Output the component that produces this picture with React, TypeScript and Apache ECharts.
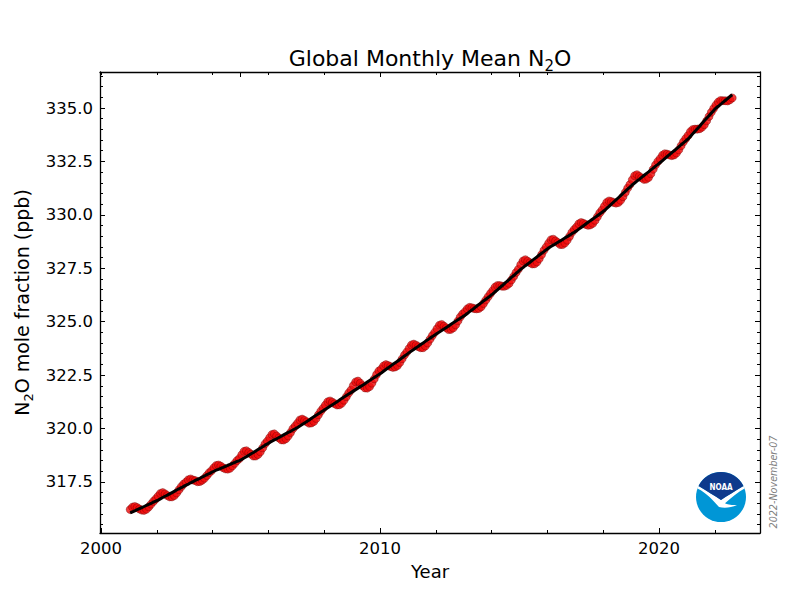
import React, { useEffect, useRef } from "react";
import * as echarts from "echarts";

// ---------- data ----------
const startYear = 2001; // first month: January 2001, one value per month

// Monthly global means (red points), Jan 2001 .. Aug 2022, ppb
const monthlyMean: number[] = [
  316.21, 316.32, 316.35, 316.30, 316.23, 316.18, 316.17, 316.22, 316.33, 316.46, 316.59, 316.70,
  316.83, 316.96, 317.00, 316.94, 316.86, 316.80, 316.80, 316.86, 316.98, 317.13, 317.28, 317.40,
  317.49, 317.60, 317.64, 317.59, 317.56, 317.51, 317.52, 317.58, 317.67, 317.80, 317.93, 318.03,
  318.16, 318.27, 318.29, 318.24, 318.16, 318.11, 318.10, 318.14, 318.25, 318.37, 318.50, 318.60,
  318.77, 318.93, 318.96, 318.88, 318.80, 318.71, 318.71, 318.78, 318.91, 319.09, 319.28, 319.41,
  319.57, 319.72, 319.75, 319.65, 319.56, 319.47, 319.46, 319.52, 319.65, 319.81, 319.99, 320.12,
  320.25, 320.40, 320.44, 320.38, 320.31, 320.25, 320.26, 320.33, 320.47, 320.64, 320.81, 320.95,
  321.10, 321.25, 321.29, 321.23, 321.16, 321.10, 321.11, 321.18, 321.32, 321.49, 321.66, 321.80,
  322.01, 322.18, 322.22, 322.12, 322.00, 321.90, 321.89, 321.96, 322.12, 322.32, 322.53, 322.69,
  322.78, 322.93, 322.99, 322.95, 322.90, 322.86, 322.88, 322.95, 323.09, 323.26, 323.44, 323.58,
  323.75, 323.91, 323.95, 323.90, 323.83, 323.78, 323.78, 323.86, 324.00, 324.18, 324.35, 324.50,
  324.67, 324.83, 324.87, 324.79, 324.71, 324.63, 324.64, 324.71, 324.85, 325.03, 325.22, 325.36,
  325.46, 325.60, 325.67, 325.65, 325.61, 325.60, 325.62, 325.70, 325.85, 326.01, 326.17, 326.32,
  326.46, 326.62, 326.69, 326.69, 326.66, 326.66, 326.70, 326.79, 326.95, 327.12, 327.30, 327.45,
  327.67, 327.84, 327.90, 327.83, 327.76, 327.70, 327.71, 327.79, 327.95, 328.14, 328.34, 328.50,
  328.67, 328.83, 328.86, 328.78, 328.70, 328.61, 328.61, 328.68, 328.81, 328.99, 329.18, 329.31,
  329.43, 329.58, 329.64, 329.60, 329.55, 329.51, 329.53, 329.60, 329.74, 329.91, 330.09, 330.23,
  330.40, 330.58, 330.65, 330.62, 330.58, 330.55, 330.58, 330.68, 330.85, 331.05, 331.25, 331.42,
  331.64, 331.83, 331.88, 331.80, 331.73, 331.66, 331.67, 331.75, 331.92, 332.13, 332.34, 332.50,
  332.63, 332.79, 332.86, 332.84, 332.80, 332.77, 332.80, 332.89, 333.04, 333.23, 333.42, 333.57,
  333.71, 333.89, 333.99, 334.01, 334.01, 334.03, 334.10, 334.22, 334.40, 334.60, 334.80, 334.98,
  335.14, 335.28, 335.35, 335.34, 335.34, 335.33, 335.38, 335.47,
];

// Deseasonalized trend (black line), same months
const trendValues: number[] = [
  316.05, 316.10, 316.15, 316.20, 316.25, 316.30, 316.35, 316.40, 316.45, 316.50, 316.55, 316.60,
  316.65, 316.71, 316.77, 316.83, 316.88, 316.94, 317.00, 317.06, 317.12, 317.18, 317.23, 317.29,
  317.35, 317.40, 317.46, 317.51, 317.57, 317.62, 317.67, 317.73, 317.78, 317.84, 317.89, 317.95,
  318.00, 318.05, 318.09, 318.14, 318.18, 318.23, 318.28, 318.32, 318.37, 318.41, 318.46, 318.50,
  318.55, 318.62, 318.68, 318.75, 318.82, 318.88, 318.95, 319.02, 319.08, 319.15, 319.22, 319.28,
  319.35, 319.41, 319.47, 319.52, 319.58, 319.64, 319.70, 319.76, 319.82, 319.87, 319.93, 319.99,
  320.05, 320.12, 320.19, 320.26, 320.33, 320.40, 320.48, 320.55, 320.62, 320.69, 320.76, 320.83,
  320.90, 320.97, 321.04, 321.11, 321.18, 321.25, 321.33, 321.40, 321.47, 321.54, 321.61, 321.68,
  321.75, 321.82, 321.89, 321.96, 322.03, 322.10, 322.18, 322.25, 322.32, 322.39, 322.46, 322.53,
  322.60, 322.68, 322.76, 322.84, 322.92, 323.00, 323.08, 323.15, 323.23, 323.31, 323.39, 323.47,
  323.55, 323.63, 323.70, 323.78, 323.85, 323.93, 324.00, 324.08, 324.15, 324.23, 324.30, 324.38,
  324.45, 324.52, 324.59, 324.66, 324.73, 324.80, 324.88, 324.95, 325.02, 325.09, 325.16, 325.23,
  325.30, 325.38, 325.47, 325.55, 325.63, 325.72, 325.80, 325.88, 325.97, 326.05, 326.13, 326.22,
  326.30, 326.40, 326.49, 326.59, 326.68, 326.78, 326.88, 326.97, 327.07, 327.16, 327.26, 327.35,
  327.45, 327.53, 327.62, 327.70, 327.78, 327.87, 327.95, 328.03, 328.12, 328.20, 328.28, 328.37,
  328.45, 328.52, 328.58, 328.65, 328.72, 328.78, 328.85, 328.92, 328.98, 329.05, 329.12, 329.18,
  329.25, 329.33, 329.41, 329.49, 329.57, 329.65, 329.73, 329.80, 329.88, 329.96, 330.04, 330.12,
  330.20, 330.30, 330.40, 330.50, 330.60, 330.70, 330.80, 330.90, 331.00, 331.10, 331.20, 331.30,
  331.40, 331.49, 331.58, 331.66, 331.75, 331.84, 331.93, 332.01, 332.10, 332.19, 332.28, 332.36,
  332.45, 332.54, 332.63, 332.73, 332.82, 332.91, 333.00, 333.09, 333.18, 333.28, 333.37, 333.46,
  333.55, 333.67, 333.79, 333.91, 334.03, 334.15, 334.28, 334.40, 334.52, 334.64, 334.76, 334.88,
  335.00, 335.08, 335.17, 335.26, 335.35, 335.44, 335.53, 335.62,
];

// Tick labels
const xMajorTicks: number[] = [2000, 2010, 2020];
const xMinorTicks: number[] = [2002, 2004, 2006, 2008, 2012, 2014, 2016, 2018, 2022];
const xTopMajorTicks: number[] = [2005, 2010, 2015, 2020];
const xTopMinorTicks: number[] = [2000, 2002, 2004, 2006, 2008, 2012, 2014, 2016, 2018, 2022];
const yMajorTicks: number[] = [317.5, 320.0, 322.5, 325.0, 327.5, 330.0, 332.5, 335.0];
const yMinorTicks: number[] = [
  315.5, 316.0, 316.5, 317.0, 318.0, 318.5, 319.0, 319.5, 320.5, 321.0, 321.5, 322.0,
  323.0, 323.5, 324.0, 324.5, 325.5, 326.0, 326.5, 327.0, 328.0, 328.5, 329.0, 329.5,
  330.5, 331.0, 331.5, 332.0, 333.0, 333.5, 334.0, 334.5, 335.5, 336.0, 336.5,
];

const titleText = "{m|Global Monthly Mean N}{sub|2}{m|O}";
const xAxisName = "Year";
const yAxisName = "{m|N}{sub|2}{m|O mole fraction (ppb)}";
const dateStamp = "2022-November-07";

// ---------- logo shapes ----------
const darkPath =
  "M -22.4 -11 A 25 25 0 0 1 22.4 -11 C 14 -6 6 -1 0 3 C -6 -1 -14 -6 -22.4 -11 Z";
const gullPath =
  "M -23.6 -8.4 C -14 -4 -8 4 -2 10 C 4 11.5 10 10.5 16 8 C 10 8.2 6 7.4 4 6.2 C 10 1 17 -5 23.6 -8.6 L 22.4 -11 C 14 -6 6 -1 0 3 C -6 -1 -14 -6 -22.4 -11 Z";
echarts.graphic.registerShape("noaaDark", echarts.graphic.extendPath(darkPath, {}));
echarts.graphic.registerShape("noaaGull", echarts.graphic.extendPath(gullPath, {}));

const FONT = "DejaVu Sans";
const X_MIN = 1999.96;
const X_MAX = 2023.62;
const Y_MIN = 315.11;
const Y_MAX = 336.685;

function tickOnlyAxis(base: any, ticks: number[], len: number) {
  return {
    ...base,
    axisLine: { show: false },
    axisLabel: { show: false },
    splitLine: { show: false },
    axisTick: {
      show: true,
      inside: true,
      length: len,
      customValues: ticks,
      lineStyle: { color: "#000", width: 1 },
    },
  };
}

export default function App() {
  const ref = useRef<HTMLDivElement>(null);

  useEffect(() => {
    if (!ref.current) return;
    const chart = echarts.init(ref.current, undefined, { renderer: "svg" });

    const meanData = monthlyMean.map((v, i) => [startYear + (i + 0.5) / 12, v]);
    const trendData = trendValues.map((v, i) => [startYear + (i + 0.5) / 12, v]);

    const xBase = { type: "value", min: X_MIN, max: X_MAX, gridIndex: 0 };
    const yBase = { type: "value", min: Y_MIN, max: Y_MAX, gridIndex: 0 };
    const spine = { show: true, lineStyle: { color: "#000", width: 1.3 } };

    const option: any = {
      animation: false,
      backgroundColor: "#fff",
      grid: { left: 100, right: 40, top: 72, bottom: 67, containLabel: false },
      xAxis: [
        {
          ...xBase,
          position: "bottom",
          axisLine: spine,
          splitLine: { show: false },
          axisTick: {
            show: true,
            inside: true,
            length: 5,
            customValues: xMajorTicks,
            lineStyle: { color: "#000", width: 1 },
          },
          axisLabel: {
            show: true,
            customValues: xMajorTicks,
            margin: 7,
            fontSize: 16.5,
            fontFamily: FONT,
            color: "#000",
            formatter: (v: number) => String(Math.round(v)),
          },
          name: xAxisName,
          nameLocation: "middle",
          nameGap: 29,
          nameTextStyle: { fontSize: 18, fontFamily: FONT, color: "#000" },
        },
        tickOnlyAxis({ ...xBase, position: "bottom" }, xMinorTicks, 3),
        {
          ...tickOnlyAxis({ ...xBase, position: "top" }, xTopMajorTicks, 5),
          axisLine: spine,
        },
        tickOnlyAxis({ ...xBase, position: "top" }, xTopMinorTicks, 3),
      ],
      yAxis: [
        {
          ...yBase,
          position: "left",
          axisLine: spine,
          splitLine: { show: false },
          axisTick: {
            show: true,
            inside: true,
            length: 5,
            customValues: yMajorTicks,
            lineStyle: { color: "#000", width: 1 },
          },
          axisLabel: {
            show: true,
            customValues: yMajorTicks,
            margin: 7,
            fontSize: 16.5,
            fontFamily: FONT,
            color: "#000",
            formatter: (v: number) => v.toFixed(1),
          },
          name: yAxisName,
          nameLocation: "middle",
          nameRotate: 90,
          nameGap: 62,
          nameTextStyle: {
            fontSize: 19,
            fontFamily: FONT,
            color: "#000",
            rich: {
              m: { fontSize: 19, fontFamily: FONT, color: "#000", lineHeight: 26, verticalAlign: "middle" },
              sub: { fontSize: 13, fontFamily: FONT, color: "#000", lineHeight: 14, verticalAlign: "bottom" },
            },
          },
        },
        tickOnlyAxis({ ...yBase, position: "left" }, yMinorTicks, 3),
        {
          ...tickOnlyAxis({ ...yBase, position: "right" }, yMajorTicks, 5),
          axisLine: spine,
        },
        tickOnlyAxis({ ...yBase, position: "right" }, yMinorTicks, 3),
      ],
      series: [
        {
          type: "scatter",
          name: "Monthly mean",
          data: meanData,
          xAxisIndex: 0,
          yAxisIndex: 0,
          symbol: "circle",
          symbolSize: 8,
          itemStyle: { color: "#f00a0a", borderColor: "#6a0000", borderWidth: 0.5 },
          z: 2,
        },
        {
          type: "line",
          name: "Trend",
          data: trendData,
          xAxisIndex: 0,
          yAxisIndex: 0,
          showSymbol: false,
          symbol: "none",
          lineStyle: { color: "#000", width: 3 },
          z: 3,
        },
      ],
      graphic: [
        {
          type: "text",
          x: 430,
          y: 58,
          style: {
            text: titleText,
            fontSize: 22,
            fontFamily: FONT,
            fill: "#000",
            align: "center",
            verticalAlign: "middle",
            rich: {
              m: { fontSize: 22, fontFamily: FONT, fill: "#000", lineHeight: 30, verticalAlign: "middle" },
              sub: { fontSize: 15, fontFamily: FONT, fill: "#000", lineHeight: 16, verticalAlign: "bottom" },
            },
          },
        },
        {
          type: "text",
          x: 773,
          y: 482,
          rotation: Math.PI / 2,
          style: {
            text: dateStamp,
            fontSize: 9.6,
            fontStyle: "italic",
            fontFamily: FONT,
            fill: "#808080",
            align: "center",
            verticalAlign: "middle",
          },
        },
        {
          type: "group",
          x: 721,
          y: 497,
          children: [
            { type: "circle", shape: { cx: 0, cy: 0, r: 25 }, style: { fill: "#0096d6" } },
            { type: "noaaGull", style: { fill: "#ffffff" } },
            { type: "noaaDark", style: { fill: "#0e3a8c" } },
            {
              type: "text",
              x: 0,
              y: -10,
              style: {
                text: "NOAA",
                fontSize: 8,
                fontWeight: "bold",
                fontFamily: "DejaVu Sans Condensed",
                fill: "#fff",
                align: "center",
                verticalAlign: "middle",
              },
            },
          ],
        },
      ],
    };

    chart.setOption(option);
    return () => chart.dispose();
  }, []);

  return (
    <div
      ref={ref}
      style={{ position: "fixed", left: 0, top: 0, width: 800, height: 600, background: "#fff" }}
    />
  );
}
